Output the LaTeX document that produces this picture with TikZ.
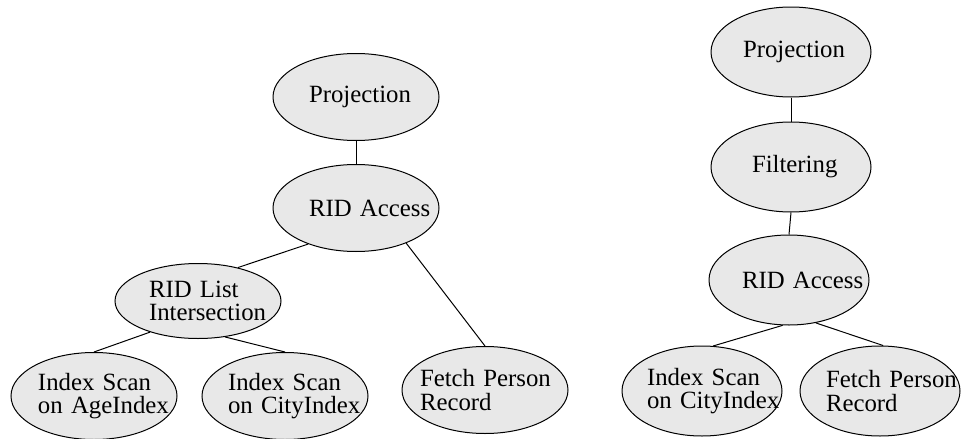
\documentclass[tikz,border=0pt]{standalone}
\usepackage{fontspec}
\setmainfont{Liberation Serif}
\usetikzlibrary{shapes.geometric, positioning}
\definecolor{opgray}{RGB}{232,232,232}
\hyphenpenalty=10000

\begin{document}
\begin{tikzpicture}[x=0.5pt,y=-0.5pt,
    op/.style={ellipse,draw=black,fill=opgray,line width=0.5pt,minimum width=83pt,minimum height=43.5pt,inner xsep=-20pt,inner ysep=0pt,align=left,text width=#1,font=\fontsize{12.4}{11.6}\selectfont},
    op/.default=48pt,
    edge/.style={draw=black,line width=0.5pt}]
    \useasboundingbox (0,0) rectangle (964,439);

    % Piano con intersezione RID
    \node[op=47pt] (projA) at (356,97) {Projection};
    \node[op=47pt] (ridA) at (356,208) {RID~Access};
    \node[op=49pt,minimum height=37.5pt] (interA) at (198,301) {RID~List\\Intersection};
    \node[op=56pt] (ageA) at (94,396) {Index~Scan\\on~AgeIndex};
    \node[op=57pt] (cityA) at (285,396) {Index~Scan\\on~CityIndex};
    \node[op=65pt] (fetchA) at (485,390) {Fetch~Person\\Record};

    \draw[edge] (projA.south) -- (ridA.north);
    \draw[edge] (ridA.217) -- (interA.40);
    \draw[edge] (ridA.325) -- (fetchA.north);
    \draw[edge] (interA.213) -- (ageA.north);
    \draw[edge] (interA.307) -- (cityA.north);

    % Piano con filtro
    \node[op=48pt,minimum width=80pt,minimum height=45pt] (projB) at (791,52) {Projection};
    \node[op=39pt,minimum width=80pt,minimum height=45pt] (filtB) at (791,167) {Filtering};
    \node[op=47pt,minimum width=80pt,minimum height=45pt] (ridB) at (789,280) {RID~Access};
    \node[op=55pt,minimum width=80pt,minimum height=45pt] (cityB) at (702,391) {Index~Scan\\on~CityIndex};
    \node[op=54pt,minimum width=80pt,minimum height=45pt] (fetchB) at (880,391) {Fetch~Person\\Record};

    \draw[edge] (projB.south) -- (filtB.north);
    \draw[edge] (filtB.south) -- (ridB.north);
    \draw[edge] (ridB.262) -- (cityB.76);
    \draw[edge] (ridB.302) -- (fetchB.86);
\end{tikzpicture}
\end{document}
